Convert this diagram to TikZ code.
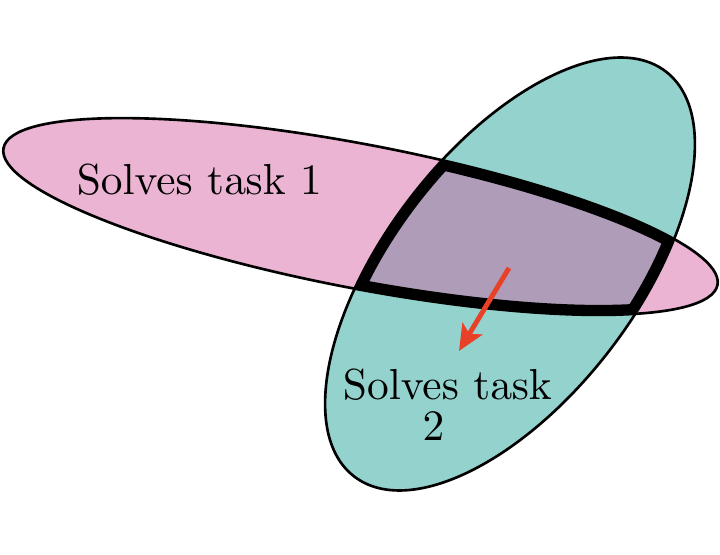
\documentclass[tikz,border=0pt]{standalone}
\usepackage{tikz}
\usetikzlibrary{arrows.meta}
\definecolor{taskone}{RGB}{236,180,211}
\definecolor{tasktwo}{RGB}{148,210,205}
\definecolor{bothtasks}{RGB}{175,156,184}
\definecolor{stepred}{RGB}{232,65,40}
\font\setlabelfont=cmr10 at 24.7pt
\newcommand{\setlabelsize}{\setlabelfont\baselineskip 23.8pt\relax}
\tikzset{set label/.style={font=\setlabelsize, align=center},
 set line/.style={line width=1.5pt},
 overlap edge/.style={line width=.4cm},
 rotone/.style={rotate around={-10.85:(7.21,6.75)}},
 rottwo/.style={rotate around={52.4:(10.2,5.6)}},
 update/.style={draw=stepred, line width=2.8pt,
  -{Stealth[length=.52cm,width=.46cm,inset=.12cm]}},
 }

\begin{document}
\begin{tikzpicture}
        \useasboundingbox (0,0) rectangle (14.4,11.08);
        \fill[taskone, rotone] (7.21,6.75) ellipse (7.27 and 1.44);
        \fill[tasktwo, rottwo] (10.2,5.6) ellipse (5.11 and 2.51);

        \begin{scope}
        \clip[rotone] (7.21,6.75) ellipse (7.27 and 1.44);
        \clip[rottwo] (10.2,5.6) ellipse (5.11 and 2.51);
        \fill[bothtasks] (0,0) rectangle (14.4,11.08);
        \draw[overlap edge, rotone] (7.21,6.75) ellipse (7.27 and 1.44);
        \draw[overlap edge, rottwo] (10.2,5.6) ellipse (5.11 and 2.51);
        \end{scope}

        \draw[set line, rotone] (7.21,6.75) ellipse (7.27 and 1.44);
        \draw[set line, rottwo] (10.2,5.6) ellipse (5.11 and 2.51);

        \node[set label, anchor=base] (taskonelabel) at (3.99, 7.18) {Solves task 1};
        \node[set label] (tasktwolabel) at (8.95, 2.98) {Solves task\\\hspace*{-.56cm}2};

        \coordinate (steptail) at (10.18, 5.72);
        \coordinate (stephead) at (9.18, 4.06);
        \draw[update] (steptail) -- (stephead);
    \end{tikzpicture}
\end{document}
